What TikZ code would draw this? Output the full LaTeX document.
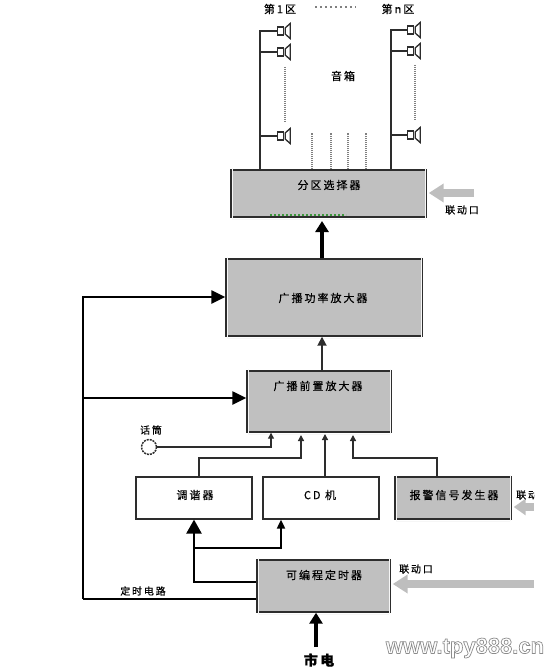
\documentclass[tikz,border=0pt]{standalone}
\usepackage{fontspec}
\setmainfont{Noto Sans CJK SC}
\newfontfamily\lblfont[LetterSpace=18,FakeBold=0.4]{Noto Sans CJK SC}
\newfontfamily\urlfont{Liberation Sans}
\usepackage{tikz}
\usetikzlibrary{arrows.meta, positioning}
\definecolor{boxGray}{RGB}{192, 192, 192}
\definecolor{lineDark}{RGB}{45, 45, 45}
\definecolor{linkGray}{RGB}{190, 190, 190}
\definecolor{seamGreen}{RGB}{60, 150, 60}
\tikzset{
  grybox/.style={draw=lineDark, line width=1.4pt, fill=boxGray, inner sep=0pt,
    append after command={
      ([shift={(1.6pt,1.6pt)}]\tikzlastnode.north west) edge[draw=white!85!boxGray, line width=.6pt] ([shift={(1.6pt,-1.6pt)}]\tikzlastnode.south west)
      ([shift={(1.6pt,-1.6pt)}]\tikzlastnode.south west) edge[draw=white!85!boxGray, line width=.6pt] ([shift={(-1.6pt,-1.6pt)}]\tikzlastnode.south east)
      ([shift={(-1.6pt,-1.6pt)}]\tikzlastnode.south east) edge[draw=white!85!boxGray, line width=.6pt] ([shift={(-1.6pt,1.6pt)}]\tikzlastnode.north east)
    }},
  whtbox/.style={draw=lineDark, line width=1.2pt, fill=white, inner sep=0pt,
    minimum width=116pt, minimum height=42pt},
  lbl/.style={font=\lblfont\fontsize{11}{11}\selectfont, text=black, inner sep=0pt},
  smalllbl/.style={font=\lblfont\fontsize{10}{10}\selectfont, text=black, inner sep=0pt},
  wire/.style={draw=lineDark, line width=1.3pt},
  sig/.style={draw=lineDark, line width=1.3pt, -{Triangle[length=6pt, width=6pt]}},
  bus/.style={draw=black, line width=2.4pt, -{Triangle[length=14pt, width=13pt]}},
  heavy/.style={draw=black, line width=3.4pt, -{Triangle[length=11pt, width=13pt]}},
  linkarrow/.style={draw=linkGray, line width=8pt, -{Triangle[length=15pt, width=18pt]}},
  dots/.style={draw=gray, line width=1.3pt, dash pattern=on 1pt off 1pt},
  spk/.style={draw=lineDark, line width=1.3pt, fill=white, minimum width=6pt, minimum height=8pt, inner sep=0pt},
  cone/.style={draw=lineDark, line width=1.3pt, fill=white},
  wmark/.style={font=\urlfont\bfseries\fontsize{22}{22}\selectfont, inner sep=0pt},
}
\newcommand{\outlined}[1]{\special{pdf:code q 1 Tr 0.7 w 0.55 0.55 0.55 RG}#1\special{pdf:code Q}}
\begin{document}
\begin{tikzpicture}[x=1pt, y=-1pt, >=Stealth]
  \useasboundingbox (0,0) rectangle (559,671);

  % boxes
  \node[grybox, minimum width=195pt, minimum height=47pt] (zone) at (328.5,193.5) {};
  \node[grybox, minimum width=196pt, minimum height=77pt] (power) at (324,297.5) {};
  \node[grybox, minimum width=144pt, minimum height=61pt] (pre) at (319,401.5) {};
  \node[whtbox] (tuner) at (194,498) {};
  \node[whtbox] (cd) at (321,498) {};
  \node[grybox, minimum width=116pt, minimum height=42pt] (alarm) at (453,498) {};
  \node[grybox, minimum width=133pt, minimum height=52pt] (timer) at (323.5,586) {};
  \draw[draw=seamGreen, line width=1.2pt, dash pattern=on 2pt off 2pt] (270,215) -- (346,215);

  % box texts
  \node[lbl] (zoneTxt) at (329,185) {分区选择器};
  \node[lbl] (powerTxt) at (323,298) {广播功率放大器};
  \node[lbl] (preTxt) at (318,386) {广播前置放大器};
  \node[lbl] (tunerTxt) at (195,495) {调谐器};
  \node[lbl] (cdTxt) at (320,495) {CD 机};
  \node[lbl] (alarmTxt) at (454,495) {报警信号发生器};
  \node[lbl] (timerTxt) at (324,575) {可编程定时器};

  % speakers, zone 1 and zone n
  \foreach \n/\y in {1/31, 2/52, 3/136} {
    \node[spk] (spkL\n) at (280.5,\y) {};
    \draw[cone] (spkL\n.east) ++(1,-3) -- ++(5,-4.5) -- ++(0,15) -- ++(-5,-4.5) -- cycle;
    \node[spk] (spkR\n) at (410.5,\y-1) {};
    \draw[cone] (spkR\n.east) ++(1,-3) -- ++(5,-4.5) -- ++(0,15) -- ++(-5,-4.5) -- cycle;
  }
  \coordinate (trunkL) at (260,31);
  \coordinate (trunkR) at (391,30);
  \draw[wire] (zone.north -| trunkL) -- (trunkL) -- (spkL1.west);
  \draw[wire] (zone.north -| trunkR) -- (trunkR) -- (spkR1.west);
  \foreach \n in {2,3} {
    \draw[wire] (spkL\n.west) -- (spkL\n.west -| trunkL);
    \draw[wire] (spkR\n.west) -- (spkR\n.west -| trunkR);
  }
  \node[lbl] (zoneFirst) at (280,9) {第1区};
  \node[lbl] (zoneLast) at (398,9) {第n区};
  \node[lbl] (spkTxt) at (343,76) {音箱};

  % dotted rows
  \coordinate (dotL) at (285,67);
  \coordinate (dotR) at (415,65);
  \draw[dots] (dotL) -- ++(0,55);
  \draw[dots] (dotR) -- ++(0,56);
  \draw[dots, line width=2.2pt, dash pattern=on 2pt off 3pt] (315,7) -- (356,7);
  \foreach \x in {312,331,348,366}
    \draw[dots] (zone.north -| \x,0) -- (\x,133);

  % power path
  \draw[heavy] (power.north -| 322,0) -- (322,221);
  \draw[sig, line width=1.8pt, -{Triangle[length=9pt, width=9pt]}] (pre.north -| 322,0) -- (power.south -| 322,0);

  % timer bus
  \coordinate (busTop) at (83,297);
  \coordinate (busMid) at (83,398);
  \coordinate (busEnd) at (83,599);
  \draw[draw=black, line width=1.2pt] (timer.west |- busEnd) -- (busEnd);
  \draw[draw=black, line width=2.4pt] (busEnd) -- (busMid);
  \draw[bus] (busMid) -- (busTop) -- (power.west |- busTop);
  \draw[bus] (busMid) -- (pre.west |- busMid);
  \node[smalllbl] (busTxt) at (143,591) {定时电路};

  % sources into the preamp
  \node[circle, draw=lineDark, line width=1.5pt, dash pattern=on 2pt off 1pt, minimum size=15pt, inner sep=0pt] (mic) at (149,447) {};
  \node[smalllbl] (micTxt) at (151,430) {话筒};
  \draw[sig] (mic.east) -| (pre.south -| 271,0);
  \draw[sig] (tuner.north -| 199,0) |- (301,458) -- (301,435);
  \draw[sig] (cd.north -| 325,0) -- (325,434);
  \draw[sig] (alarm.north -| 437,0) |- (353,458) -- (353,435);

  % timer outputs
  \coordinate (split) at (194,548);
  \draw[draw=black, line width=2.4pt, -{Triangle[length=14pt, width=15pt]}] (timer.west |- 0,582) -- (194,582) -- (tuner.south -| 194,0);
  \draw[draw=black, line width=1.8pt, -{Triangle[length=9pt, width=8pt]}] (split) -| (cd.south -| 281,0);
  \draw[heavy, line width=3.6pt] (316,647) -- (timer.south -| 316,0);
  \node[lbl, font=\lblfont\bfseries\fontsize{14}{14}\selectfont] (mainsTxt) at (319,660) {市电};

  % linkage inputs
  \coordinate (linkZone) at (474,193);
  \coordinate (linkAlarm) at (534,507);
  \coordinate (linkTimer) at (534,584);
  \draw[linkarrow] (linkZone) -- ([xshift=2pt]zone.east |- linkZone);
  \draw[linkarrow, -{Triangle[length=12pt, width=16pt]}] (linkAlarm) -- ([xshift=2pt]alarm.east |- linkAlarm);
  \draw[linkarrow] (linkTimer) -- ([xshift=2pt]timer.east |- linkTimer);
  \node[smalllbl] (linkZoneTxt) at (462,210) {联动口};
  \begin{scope}
    \clip (510,485) rectangle (534,505);
    \node[smalllbl, anchor=west] (linkAlarmTxt) at (516,495) {联动口};
  \end{scope}
  \node[smalllbl] (linkTimerTxt) at (416,569) {联动口};

  % site mark
  \node[wmark] (siteMark) at (465,648) {\outlined{www.tpy888.cn}};
\end{tikzpicture}
\end{document}
